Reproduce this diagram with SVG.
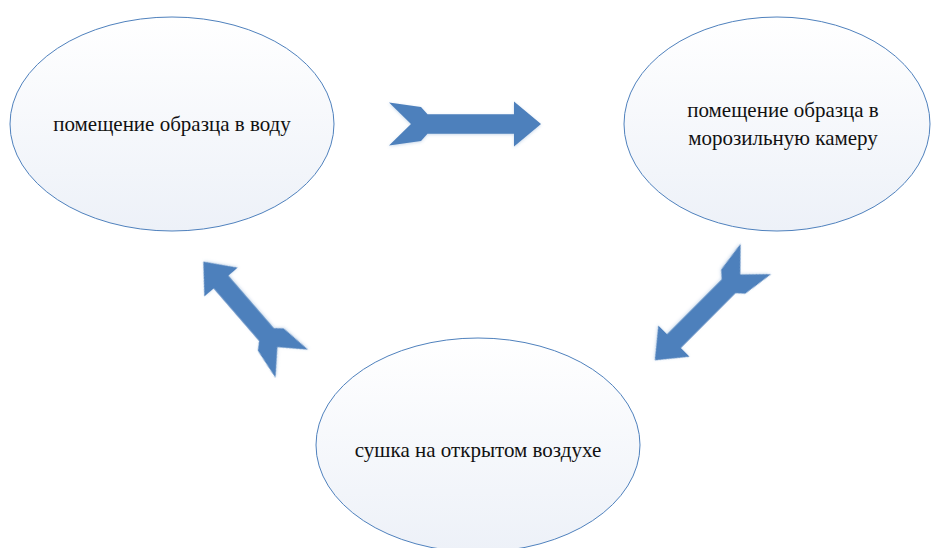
<svg xmlns="http://www.w3.org/2000/svg" width="932" height="548" viewBox="0 0 932 548">
  <style>
    .node { fill: url(#nodeFill); stroke: #4f81bd; stroke-width: 1; }
    .label { font-family: "Liberation Serif", "Times New Roman", serif; font-size: 21px; fill: #111; text-anchor: middle; }
    .arrow { fill: #4e80bc; filter: url(#soft); }
  </style>
  <defs>
    <linearGradient id="nodeFill" x1="0" y1="0" x2="0" y2="1">
      <stop offset="0" stop-color="#ffffff"/>
      <stop offset="1" stop-color="#edf1f8"/>
    </linearGradient>
    <filter id="soft" x="-20%" y="-20%" width="140%" height="140%">
      <feDropShadow dx="0" dy="1" stdDeviation="1.5" flood-color="#4e80bc" flood-opacity="0.3"/>
    </filter>
  </defs>
  <rect width="932" height="548" fill="#ffffff"/>

  <g id="node-water">
    <ellipse class="node" cx="172" cy="124" rx="162" ry="107"/>
    <text class="label" x="172" y="131">помещение образца в воду</text>
  </g>

  <g id="node-freezer">
    <ellipse class="node" cx="777" cy="124" rx="153" ry="107"/>
    <text class="label" x="783" y="117">помещение образца в</text>
    <text class="label" x="783" y="145">морозильную камеру</text>
  </g>

  <g id="node-drying">
    <ellipse class="node" cx="478" cy="445" rx="162" ry="107"/>
    <text class="label" x="478" y="457">сушка на открытом воздухе</text>
  </g>

  <g id="connectors">
    <path class="arrow" transform="translate(389,124)" d="M0,-21.5 L32,-17 L38.5,-9.8 L125,-9.8 L125,-22.5 L152,0 L125,22.5 L125,9.8 L38.5,9.8 L32,17 L0,21.5 L22,0 Z"/>
    <path class="arrow" transform="translate(755.8,259) rotate(134.9)" d="M0,-21.5 L32,-17 L38.5,-9.8 L116,-9.8 L116,-22 L143,0 L116,22 L116,9.8 L38.5,9.8 L32,17 L0,21.5 L22,0 Z"/>
    <path class="arrow" transform="translate(291.7,363.7) rotate(-130.9)" d="M0,-21.5 L32,-17 L38.5,-9.8 L108,-9.8 L108,-22 L135,0 L108,22 L108,9.8 L38.5,9.8 L32,17 L0,21.5 L22,0 Z"/>
  </g>
</svg>
